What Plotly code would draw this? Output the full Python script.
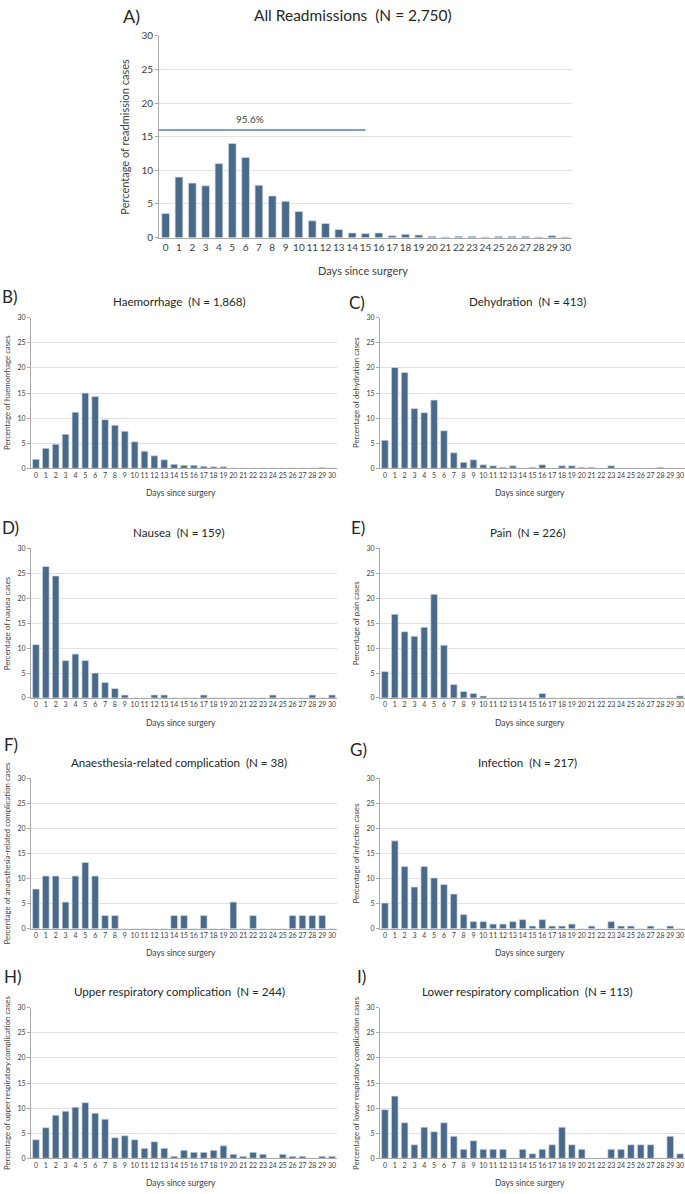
from plotly import graph_objects as go

# days 0..30 after surgery
days = list(range(31))

all_readmissions = [3.6, 9.0, 8.1, 7.7, 11.0, 14.0, 11.9, 7.8, 6.2, 5.4, 3.9, 2.5, 2.1, 1.2, 0.7, 0.6,
                    0.7, 0.3, 0.5, 0.4, 0.2, 0.1, 0.2, 0.2, 0.1, 0.2, 0.2, 0.2, 0.1, 0.3, 0.1]
haemorrhage = [1.8, 4.0, 4.8, 6.8, 11.2, 15.0, 14.3, 9.7, 8.6, 7.4, 5.3, 3.4, 2.5, 1.7, 0.8, 0.6,
               0.6, 0.4, 0.3, 0.3, 0.05, 0.05, 0.05, 0.05, 0.05, 0.05, 0.05, 0.05, 0.05, 0.15, 0.05]
dehydration = [5.6, 20.1, 19.1, 11.9, 11.1, 13.6, 7.5, 3.1, 1.2, 1.7, 0.7, 0.5, 0.2, 0.5, 0.0, 0.2,
               0.7, 0.0, 0.5, 0.5, 0.2, 0.2, 0.0, 0.5, 0.0, 0.0, 0.0, 0.0, 0.2, 0.0, 0.0]
nausea = [10.7, 26.4, 24.5, 7.5, 8.8, 7.5, 5.0, 3.1, 1.9, 0.6, 0.0, 0.0, 0.6, 0.6, 0.0, 0.0,
          0.0, 0.6, 0.0, 0.0, 0.0, 0.0, 0.0, 0.0, 0.6, 0.0, 0.0, 0.0, 0.6, 0.0, 0.6]
pain = [5.3, 16.8, 13.3, 12.4, 14.2, 20.8, 10.6, 2.7, 1.3, 0.9, 0.4, 0.0, 0.0, 0.0, 0.0, 0.0,
        0.9, 0.0, 0.0, 0.0, 0.0, 0.0, 0.0, 0.0, 0.0, 0.0, 0.0, 0.0, 0.0, 0.0, 0.4]
anaesthesia = [7.9, 10.5, 10.5, 5.3, 10.5, 13.2, 10.5, 2.6, 2.6, 0.0, 0.0, 0.0, 0.0, 0.0, 2.6, 2.6,
               0.0, 2.6, 0.0, 0.0, 5.3, 0.0, 2.6, 0.0, 0.0, 0.0, 2.6, 2.6, 2.6, 2.6, 0.0]
infection = [5.1, 17.5, 12.4, 8.3, 12.4, 10.1, 8.8, 6.9, 2.8, 1.4, 1.4, 0.9, 0.9, 1.4, 1.8, 0.5,
             1.8, 0.5, 0.5, 0.9, 0.0, 0.5, 0.0, 1.4, 0.5, 0.5, 0.0, 0.5, 0.0, 0.5, 0.0]
upper_resp = [3.7, 6.1, 8.6, 9.4, 10.2, 11.1, 9.0, 7.8, 4.1, 4.5, 3.7, 2.0, 3.3, 2.0, 0.4, 1.6,
              1.2, 1.2, 1.6, 2.5, 0.8, 0.4, 1.2, 0.8, 0.0, 0.8, 0.4, 0.4, 0.0, 0.4, 0.4]
lower_resp = [9.7, 12.4, 7.1, 2.7, 6.2, 5.3, 7.1, 4.4, 1.8, 3.5, 1.8, 1.8, 1.8, 0.0, 1.8, 0.9,
              1.8, 2.7, 6.2, 2.7, 1.8, 0.0, 0.0, 1.8, 1.8, 2.7, 2.7, 2.7, 0.0, 4.4, 0.9]

# 95.6% of readmissions fall within days 0-15
threshold_level = 16
threshold_end_day = 15
threshold_label = "95.6%"

W, H = 685, 1194
BAR = "#4a6a8c"
EDGE = "#d5e0eb"
GRID = "#e2e2e2"
AXIS = "#a8a8a8"
TEXT = "#404040"
FONT = "Lato"

# letter, title, y title, values, plot box in px (x0, x1, y0, y1), letter pos in px (x, y)
panels = [
    ("A)", "All Readmissions  (N = 2,750)", "Percentage of readmission cases", all_readmissions, (159, 572, 30, 234), (121, 10)),
    ("B)", "Haemorrhage  (N = 1,868)", "Percentage of haemorrhage cases", haemorrhage, (31, 337, 315, 467), (0, 293)),
    ("C)", "Dehydration  (N = 413)", "Percentage of dehydration cases", dehydration, (380, 685, 315, 467), (347, 300)),
    ("D)", "Nausea  (N = 159)", "Percentage of nausea cases", nausea, (31, 337, 548, 699), (0, 527)),
    ("E)", "Pain  (N = 226)", "Percentage of pain cases", pain, (380, 685, 548, 699), (349, 527)),
    ("F)", "Anaesthesia-related complication  (N = 38)", "Percentage of anaesthesia-related complication cases", anaesthesia, (31, 337, 780, 932), (2, 746)),
    ("G)", "Infection  (N = 217)", "Percentage of infection cases", infection, (380, 685, 780, 932), (348, 751)),
    ("H)", "Upper respiratory complication  (N = 244)", "Percentage of upper respiratory complication cases", upper_resp, (31, 337, 1012, 1164), (2, 980)),
    ("I)", "Lower respiratory complication  (N = 113)", "Percentage of lower respiratory complication cases", lower_resp, (380, 685, 1012, 1164), (355, 980)),
]


def px(x):
    return min(max(x / W, 0), 1)


def py(y):
    return min(max(1 - y / H, 0), 1)


fig = go.Figure()
layout = dict(
    width=W, height=H,
    margin=dict(l=0, r=0, t=0, b=0),
    paper_bgcolor="white", plot_bgcolor="white",
    font=dict(family=FONT, color=TEXT),
    showlegend=False,
)
annotations = []

for i, (letter, title, ytitle, values, box, letter_pos) in enumerate(panels):
    big = i == 0
    ax = "" if i == 0 else str(i + 1)
    x0, x1, y0, y1 = box
    tick_size = 10 if big else 7
    fig.add_trace(go.Bar(
        x=days, y=values,
        xaxis="x" + ax, yaxis="y" + ax,
        width=0.58 if big else 0.68,
        marker=dict(color=BAR, line=dict(color=EDGE, width=0.7)),
        hovertemplate="Day %{x}: %{y}%<extra></extra>",
    ))
    layout["xaxis" + ax] = dict(
        domain=[px(x0), px(x1)], anchor="y" + ax,
        range=[-0.5, 30.5], tickmode="array", tickvals=days,
        showgrid=False, zeroline=False, showline=True, linecolor=AXIS, linewidth=1,
        ticks="", tickfont=dict(size=tick_size, color=TEXT), tickangle=0,
    )
    layout["yaxis" + ax] = dict(
        domain=[py(y1), py(y0)], anchor="x" + ax,
        range=[0, 30], tickmode="linear", tick0=0, dtick=5,
        showgrid=True, gridcolor=GRID, gridwidth=1, zeroline=False,
        showline=True, linecolor=AXIS, linewidth=1,
        ticks="outside", ticklen=3, tickcolor=AXIS,
        tickfont=dict(size=tick_size, color=TEXT),
    )
    cx = (x0 + x1) / 2
    lx, ly = letter_pos
    if big:
        annotations += [
            dict(text=letter, x=px(lx), y=py(ly), xanchor="left", yanchor="middle", font=dict(size=18, color="#262626")),
            dict(text=title, x=px(353), y=py(9), xanchor="center", yanchor="middle", font=dict(size=15.5, color="#262626")),
            dict(text=ytitle, x=px(125), y=py((y0 + y1) / 2), textangle=-90, xanchor="center", yanchor="middle", font=dict(size=11)),
            dict(text="Days since surgery", x=px(363), y=py(267), xanchor="center", yanchor="middle", font=dict(size=11)),
        ]
    else:
        annotations += [
            dict(text=letter, x=px(lx), y=py(ly), xanchor="left", yanchor="middle", font=dict(size=17, color="#262626")),
            dict(text=title, x=px(cx - 5), y=py(y0 - 16), xanchor="center", yanchor="middle", font=dict(size=11.6, color="#262626")),
            dict(text=ytitle, x=px(x0 - 24), y=py((y0 + y1) / 2), textangle=-90, xanchor="center", yanchor="middle", font=dict(size=7.8)),
            dict(text="Days since surgery", x=px(cx - 3), y=py(y1 + 25), xanchor="center", yanchor="middle", font=dict(size=8.5)),
        ]

for a in annotations:
    a.update(xref="paper", yref="paper", showarrow=False)

# horizontal marker showing 95.6% of readmissions
fig.add_trace(go.Scatter(
    x=[-0.5, threshold_end_day], y=[threshold_level, threshold_level],
    xaxis="x", yaxis="y", mode="lines",
    line=dict(color="#5a7fa6", width=1.5), hoverinfo="skip",
))
annotations.append(dict(
    text=threshold_label, x=6.3, y=threshold_level, xref="x", yref="y",
    yanchor="bottom", yshift=3, showarrow=False, font=dict(size=10, color=TEXT),
))

layout["annotations"] = annotations
fig.update_layout(**layout)
# drop the browser's default body margin so the figure sits at the page origin
fig.write_html("out.html", config={"displayModeBar": False},
               post_script="document.body.style.margin='0';")
